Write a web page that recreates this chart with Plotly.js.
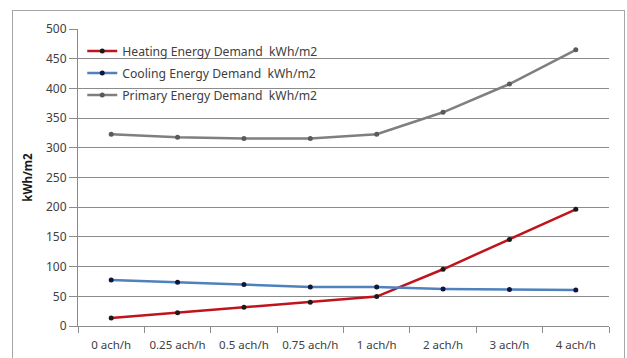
<!DOCTYPE html>
<html>
<head>
<meta charset="utf-8">
<script src="https://cdn.plot.ly/plotly-3.0.1.min.js"></script>
<style>
  html, body { margin: 0; padding: 0; background: #fff; }
  #wrap { position: relative; width: 627px; height: 358px; overflow: hidden; }
  #chart { position: absolute; left: 0; top: 0; width: 627px; height: 358px; }
  #frame { position: absolute; left: 12px; top: 10px; width: 611px; height: 360px;
           border: 1px solid #a6a6a6; pointer-events: none; }
</style>
</head>
<body>
<div id="wrap">
  <div id="chart"></div>
  <div id="frame"></div>
</div>
<script>
// Air change rates
const categories = ["0 ach/h", "0.25 ach/h", "0.5 ach/h", "0.75 ach/h", "1 ach/h", "2 ach/h", "3 ach/h", "4 ach/h"];

// Energy demand per case, kWh/m2
const heatingDemand = [13.5, 22.5, 31.5, 40, 49.5, 95.5, 145.5, 196.5];
const coolingDemand = [77.5, 73.5, 69.7, 65.7, 65.7, 62.3, 61.3, 60.6];
const primaryDemand = [323, 317.7, 315.5, 315.5, 323, 359.8, 407.4, 465];

const seriesNames = [
  "Heating Energy Demand  kWh/m2",
  "Cooling Energy Demand  kWh/m2",
  "Primary Energy Demand  kWh/m2"
];

const yTicks = [0, 50, 100, 150, 200, 250, 300, 350, 400, 450, 500];

const font = "'Noto Sans', 'Open Sans', sans-serif";

function series(name, values, lineColor, markerColor, group) {
  return {
    type: "scatter",
    mode: "lines+markers",
    name: name,
    legendgroup: group,
    x: categories,
    y: values,
    line: { color: lineColor, width: 2.5 },
    marker: { color: markerColor, size: 5, symbol: "circle" }
  };
}

const data = [
  series(seriesNames[0], heatingDemand, "#c0141c", "#1a1a1a", "heating"),
  series(seriesNames[1], coolingDemand, "#4f81bd", "#10163a", "cooling"),
  series(seriesNames[2], primaryDemand, "#7f7f7f", "#5a5a5a", "primary")
];

const layout = {
  width: 627,
  height: 358,
  margin: { l: 78, r: 18, t: 29, b: 32 },
  paper_bgcolor: "#ffffff",
  plot_bgcolor: "#ffffff",
  font: { family: font, size: 11, color: "#595959" },
  showlegend: true,
  legend: {
    x: 0.008, y: 0.975, xanchor: "left", yanchor: "top",
    bgcolor: "rgba(0,0,0,0)", borderwidth: 0,
    font: { family: font, size: 12.2, color: "#404040" },
    tracegroupgap: 3
  },
  xaxis: {
    type: "category",
    range: [-0.5, 7.5],
    showgrid: false,
    showline: true, linecolor: "#8c8c8c", linewidth: 1,
    ticks: "outside", tickson: "boundaries", ticklen: 6, tickcolor: "#8c8c8c",
    tickangle: 0,
    ticklabelstandoff: 8,
    tickfont: { family: font, size: 11.5, color: "#404040" },
    zeroline: false,
    fixedrange: true
  },
  yaxis: {
    range: [0, 500],
    tickvals: yTicks,
    ticktext: yTicks.map(String),
    showgrid: true, gridcolor: "#8c8c8c", gridwidth: 1,
    showline: true, linecolor: "#8c8c8c", linewidth: 1,
    ticks: "outside", ticklen: 8, tickcolor: "#8c8c8c",
    tickfont: { family: font, size: 12, color: "#404040" },
    zeroline: false,
    title: { text: "kWh/m2", standoff: 10,
             font: { family: font, size: 11.5, color: "#1a1a1a", weight: "bold" } },
    fixedrange: true
  }
};

Plotly.newPlot("chart", data, layout, { staticPlot: true, displayModeBar: false });
</script>
</body>
</html>
